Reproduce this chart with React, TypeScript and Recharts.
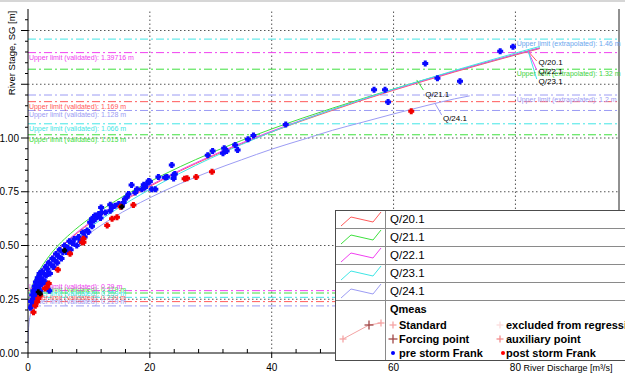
import React from 'react';
import {
  ComposedChart,
  Line,
  Scatter,
  XAxis,
  YAxis,
  ReferenceLine,
  ReferenceDot,
  Legend,
} from 'recharts';

const FONT = '"Liberation Sans", Arial, sans-serif';

// axes
const xTicks = [0, 4, 8, 12, 16, 20, 24, 28, 32, 36, 40, 44, 48, 52, 56, 60, 64, 68, 72, 76, 80, 84, 88, 92, 96];
const xLabelTicks = [0, 20, 40, 60, 80];
const yTicks = [
  0, 0.05, 0.1, 0.15, 0.2, 0.25, 0.3, 0.35, 0.4, 0.45, 0.5, 0.55, 0.6, 0.65, 0.7, 0.75, 0.8,
  0.85, 0.9, 0.95, 1, 1.05, 1.1, 1.15, 1.2, 1.25, 1.3, 1.35, 1.4, 1.45, 1.5, 1.55,
];
const yLabelTicks = [0, 0.25, 0.5, 0.75, 1];
const xGrid = [20, 40, 60, 80];
const yGrid = [0.25, 0.5, 0.75, 1, 1.25, 1.5];

// rating curves, order: Q/20.1, Q/21.1, Q/22.1, Q/23.1, Q/24.1
const seriesNames = ['Q/20.1', 'Q/21.1', 'Q/22.1', 'Q/23.1', 'Q/24.1'];
const seriesColors = ['#ff5a5a', '#3ee03e', '#f040f0', '#40e6e6', '#9c9cf4'];

const curveQ = [0.3, 0.5, 1, 2, 3, 5, 7, 10, 14, 20, 25, 30, 35, 40, 45, 50, 55, 60, 65, 70, 75, 80, 84];
const q20H = [0.262, 0.281, 0.318, 0.371, 0.412, 0.478, 0.532, 0.6, 0.677, 0.775, 0.847, 0.912, 0.972, 1.028, 1.08, 1.129, 1.177, 1.222, 1.265, 1.307, 1.347, 1.386, 1.416];
const q21H = [0.275, 0.295, 0.334, 0.39, 0.433, 0.502, 0.556, 0.624, 0.701, 0.797, 0.867, 0.93, 0.988, 1.042, 1.092, 1.139, 1.184, 1.228, 1.27, 1.311, 1.35, 1.389, 1.419];
const q22H = [0.265, 0.285, 0.322, 0.375, 0.416, 0.482, 0.536, 0.604, 0.681, 0.779, 0.851, 0.916, 0.976, 1.032, 1.084, 1.133, 1.18, 1.225, 1.268, 1.31, 1.35, 1.389, 1.419];
const q23H = [0.255, 0.273, 0.307, 0.355, 0.394, 0.457, 0.511, 0.58, 0.659, 0.761, 0.837, 0.906, 0.969, 1.028, 1.082, 1.133, 1.181, 1.227, 1.271, 1.314, 1.355, 1.395, 1.426];
const q24Q = [0, 0.1, 0.5, 1, 2, 3, 5, 7, 10, 14, 20, 25, 30, 35, 40, 45, 50, 55, 60, 65, 70, 72.5];
const q24H = [0.04, 0.118, 0.191, 0.24, 0.306, 0.354, 0.427, 0.484, 0.554, 0.63, 0.722, 0.788, 0.846, 0.898, 0.948, 0.992, 1.036, 1.074, 1.112, 1.148, 1.182, 1.196];

// limits per series (same order as seriesNames)
const upperValidated = [1.169, 1.015, 1.39716, 1.066, 1.128];
const lowerValidated = [0.239, 0.279, 0.29, 0.259, 0.219];
const upperExtrapolated = [1.46, 1.32, 1.2];
const upperExtrapolatedSeries = [3, 1, 4];
const extrapolatedTextColors = ['#6aa6ee', '#3ed23e', '#9c9cf4'];

// measurements [Q, h]
const preStorm = [
  [0.4, 0.21], [0.5, 0.24], [0.6, 0.22], [0.7, 0.27], [0.8, 0.25], [0.9, 0.29], [1.0, 0.23], [1.0, 0.27],
  [1.1, 0.31], [1.2, 0.26], [1.3, 0.29], [1.3, 0.33], [1.4, 0.27], [1.5, 0.31], [1.6, 0.35], [1.7, 0.3],
  [1.8, 0.33], [1.9, 0.37], [2.0, 0.29], [2.1, 0.35], [2.2, 0.32], [2.3, 0.38], [2.5, 0.34], [2.6, 0.37],
  [2.8, 0.33], [2.9, 0.4], [3.0, 0.36], [3.2, 0.39], [3.4, 0.42], [3.5, 0.29], [3.6, 0.37], [3.8, 0.41],
  [4.0, 0.44], [4.2, 0.4], [4.4, 0.43], [4.6, 0.46], [4.8, 0.42], [5.0, 0.45], [5.2, 0.48], [5.5, 0.44],
  [5.7, 0.47], [6.0, 0.5], [6.3, 0.47], [6.5, 0.49], [6.8, 0.52], [7.0, 0.48], [7.3, 0.51], [7.6, 0.53],
  [8.0, 0.5], [8.3, 0.54], [8.6, 0.52], [9.0, 0.56], [9.3, 0.54], [9.7, 0.57], [9.9, 0.563], [10.2, 0.608],
  [10.5, 0.59], [10.5, 0.624], [10.8, 0.616], [11.0, 0.639], [11.3, 0.631], [11.6, 0.647], [11.9, 0.628],
  [12.0, 0.677], [12.1, 0.654], [12.7, 0.654], [13.5, 0.662], [13.5, 0.69], [13.8, 0.677], [14.3, 0.685],
  [14.9, 0.693], [15.4, 0.685], [15.7, 0.7], [15.9, 0.716], [16.2, 0.724], [16.5, 0.739], [17.0, 0.781],
  [17.6, 0.747], [17.9, 0.762], [18.7, 0.762], [19.0, 0.782], [19.2, 0.77], [19.5, 0.786], [19.8, 0.8],
  [20.0, 0.798], [20.3, 0.762], [20.9, 0.762], [21.4, 0.819], [22.5, 0.816], [22.8, 0.819], [23.6, 0.875],
  [23.9, 0.827], [23.9, 0.812], [24.1, 0.832], [29.5, 0.92], [30.3, 0.94], [32.0, 0.929], [32.2, 0.952],
  [32.6, 0.94], [34.0, 0.968], [34.4, 0.944], [36.1, 0.994], [37.0, 1.012], [42.3, 1.063], [56.8, 1.225],
  [58.6, 1.225], [59.1, 1.167], [65.2, 1.346], [67.2, 1.278], [70.9, 1.264], [77.5, 1.403], [79.6, 1.424],
];
const postStorm = [
  [0.9, 0.19], [1.2, 0.22], [1.5, 0.238], [1.7, 0.253], [2.0, 0.269], [2.8, 0.3], [3.1, 0.307], [3.4, 0.323],
  [4.9, 0.387], [6.9, 0.462], [8.9, 0.515], [9.1, 0.515], [9.1, 0.531], [13.0, 0.593], [13.8, 0.624],
  [14.6, 0.631], [15.2, 0.68], [17.3, 0.688], [25.7, 0.81], [26.1, 0.813], [27.6, 0.819], [30.2, 0.843],
  [62.9, 1.125],
];
const forcing = [[1.7, 0.284], [2.0, 0.276], [6.0, 0.477], [15.4, 0.68]];

const toRows = (qs: number[], hs: number[]) => qs.map((q, i) => ({ q, h: hs[i] }));
const toPts = (arr: number[][]) => arr.map(([q, h]) => ({ q, h }));

const curves = [
  toRows(curveQ, q20H),
  toRows(curveQ, q21H),
  toRows(curveQ, q22H),
  toRows(curveQ, q23H),
  toRows(q24Q, q24H),
];

const plus = (color: string, s = 3) => (p: any) => {
  const { cx, cy } = p;
  if (cx == null || cy == null) return <g />;
  const a = s / 2;
  return (
    <path
      d={`M${cx - a},${cy - s}h${s}v${a}h${a}v${s}h${-a}v${a}h${-s}v${-a}h${-a}v${-s}h${a}z`}
      fill={color}
    />
  );
};

const XTick = (props: any) => {
  const { x, y, payload } = props;
  const v = payload.value;
  const major = xLabelTicks.includes(v);
  return (
    <g>
      <line x1={x} x2={x} y1={major ? y : y - 4} y2={major ? y + 5 : y} stroke="#000" />
      {major && (
        <text x={x} y={y + 18} textAnchor="middle" fontSize={10} fontFamily={FONT} fill="#000">
          {v}
        </text>
      )}
      {v === 80 && (
        <text x={x + 8} y={y + 18} fontSize={9} fontFamily={FONT} fill="#000">
          River Discharge [m³/s]
        </text>
      )}
    </g>
  );
};

const YTick = (props: any) => {
  const { x, y, payload } = props;
  const v = payload.value;
  const major = Math.abs(v * 4 - Math.round(v * 4)) < 1e-6;
  const labelled = yLabelTicks.some((t) => Math.abs(t - v) < 1e-6);
  return (
    <g>
      <line x1={x - (major ? 7 : 3)} x2={x} y1={y} y2={y} stroke="#000" />
      {labelled && (
        <text x={x - 9} y={y + 3.5} textAnchor="end" fontSize={10} fontFamily={FONT} fill="#000">
          {v.toFixed(2)}
        </text>
      )}
    </g>
  );
};

const YTitle = () => (
  <text transform="translate(15,53) rotate(-90)" textAnchor="middle" fontSize={9.5} fontFamily={FONT} fill="#000">
    River Stage, SG [m]
  </text>
);

const textShape = (txt: string, color: string, dy: number, size = 7) => (p: any) => (
  <text x={p.cx} y={p.cy + dy} fill={color} fontSize={size} fontFamily={FONT}>
    {txt}
  </text>
);

const Cross = ({ x, y, s, color }: { x: number; y: number; s: number; color: string }) => (
  <g stroke={color} strokeWidth={1.3}>
    <line x1={x - s} x2={x + s} y1={y} y2={y} />
    <line x1={x} x2={x} y1={y - s} y2={y + s} />
  </g>
);

const LegendBox = () => {
  const item = (top: number, left: number, marker: React.ReactNode, label: string) => (
    <div style={{ position: 'absolute', top: top - 7, left, height: 14, display: 'flex', alignItems: 'center', whiteSpace: 'nowrap' }}>
      <svg width={12} height={14}>{marker}</svg>
      <span style={{ fontWeight: 'bold', fontSize: 11, lineHeight: '14px', marginLeft: 0 }}>{label}</span>
    </div>
  );
  return (
    <div
      style={{
        width: 300,
        height: 151,
        boxSizing: 'border-box',
        border: '1px solid #4c4c4c',
        background: '#fff',
        fontFamily: FONT,
        color: '#000',
      }}
    >
      {seriesNames.map((n, i) => (
        <div key={n} style={{ display: 'flex', height: 17, borderBottom: '1px solid #8a8a8a' }}>
          <div style={{ width: 49, borderRight: '1px solid #8a8a8a' }}>
            <svg width={49} height={17}>
              <polyline points="5,15 15,6 37,11 45,1" fill="none" stroke={seriesColors[i]} />
            </svg>
          </div>
          <div style={{ paddingLeft: 4, fontSize: 11.5, lineHeight: '17px' }}>{n}</div>
        </div>
      ))}
      <div style={{ display: 'flex', height: 59 }}>
        <div style={{ width: 49, borderRight: '1px solid #8a8a8a' }}>
          <svg width={49} height={59}>
            <polyline points="7,38 33,24 45,22" fill="none" stroke="#f4a4a4" />
            <Cross x={7} y={38} s={3.5} color="#f4a4a4" />
            <Cross x={33} y={24} s={4.5} color="#a04848" />
            <Cross x={45} y={22} s={3.5} color="#f4a4a4" />
          </svg>
        </div>
        <div style={{ position: 'relative', flex: 1 }}>
          <div style={{ position: 'absolute', top: 1, left: 4, fontWeight: 'bold', fontSize: 11, lineHeight: '14px' }}>
            Qmeas
          </div>
          {item(24, 1, <Cross x={6} y={7} s={3.5} color="#f4a4a4" />, 'Standard')}
          {item(38, 1, <Cross x={6} y={7} s={4.5} color="#a04848" />, 'Forcing point')}
          {item(52, 1, <circle cx={6} cy={7} r={2} fill="#0000ff" />, 'pre storm Frank')}
          {item(24, 108, <Cross x={6} y={7} s={3.5} color="#fadcdc" />, 'excluded from regression')}
          {item(38, 108, <Cross x={6} y={7} s={3.5} color="#f28c8c" />, 'auxiliary point')}
          {item(52, 108, <circle cx={9} cy={7} r={2} fill="#ff0000" />, 'post storm Frank')}
        </div>
      </div>
    </div>
  );
};

export default function App() {
  return (
    <div
      style={{
        position: 'absolute',
        left: 0,
        top: 0,
        width: 625,
        height: 376,
        overflow: 'hidden',
        background: '#fff',
        boxShadow: 'inset 0 2px 0 #d6d6d6',
      }}
    >
      <ComposedChart width={625} height={376} margin={{ top: 9, right: 6, bottom: 0, left: 0 }}>
        <XAxis
          dataKey="q"
          type="number"
          domain={[0, 97]}
          allowDataOverflow
          ticks={xTicks}
          interval={0}
          tickSize={0}
          tickMargin={0}
          tickLine={false}
          tick={<XTick />}
          height={23}
          axisLine={{ stroke: '#000' }}
        />
        <YAxis
          dataKey="h"
          type="number"
          domain={[0, 1.6]}
          allowDataOverflow
          ticks={yTicks}
          interval={0}
          tickSize={0}
          tickMargin={0}
          tickLine={false}
          tick={<YTick />}
          width={28}
          axisLine={{ stroke: '#000' }}
          label={<YTitle />}
        />

        {xGrid.map((v) => (
          <ReferenceLine key={`gx${v}`} x={v} stroke="#555" strokeDasharray="1.5 2.5" />
        ))}
        {yGrid.map((v) => (
          <ReferenceLine key={`gy${v}`} y={v} stroke="#555" strokeDasharray="1.5 2.5" />
        ))}
        <ReferenceLine x={97} stroke="#222" />

        {upperValidated.map((v, i) => (
          <ReferenceLine key={`uv${i}`} y={v} stroke={seriesColors[i]} strokeDasharray="8 3 2 3" />
        ))}
        {lowerValidated.map((v, i) => (
          <ReferenceLine key={`lv${i}`} y={v} stroke={seriesColors[i]} strokeDasharray="8 3 2 3" />
        ))}
        {upperExtrapolated.map((v, i) => (
          <ReferenceLine
            key={`ue${i}`}
            y={v}
            stroke={seriesColors[upperExtrapolatedSeries[i]]}
            strokeDasharray="8 3 2 3"
          />
        ))}

        {upperValidated.map((v, i) => (
          <ReferenceDot
            key={`uvt${i}`}
            x={0.15}
            y={v}
            r={0}
            shape={textShape(`Upper limit (validated): ${v} m`, seriesColors[i], 7)}
          />
        ))}
        {lowerValidated.map((v, i) => (
          <ReferenceDot
            key={`lvt${i}`}
            x={0.15}
            y={v}
            r={0}
            shape={textShape(`Lower limit (validated): ${v} m`, seriesColors[i], -1.5)}
          />
        ))}
        {upperExtrapolated.map((v, i) => (
          <ReferenceDot
            key={`uet${i}`}
            x={80.2}
            y={v}
            r={0}
            shape={textShape(`Upper limit (extrapolated): ${v} m`, extrapolatedTextColors[i], 7)}
          />
        ))}

        {curves.map((d, i) => (
          <Line
            key={seriesNames[i]}
            data={d}
            dataKey="h"
            type="monotone"
            stroke={seriesColors[i]}
            strokeWidth={1}
            dot={false}
            activeDot={false}
            isAnimationActive={false}
          />
        ))}

        {/* leader lines to curve names */}
        <ReferenceLine segment={[{ x: 63.8, y: 1.27 }, { x: 64.9, y: 1.223 }]} stroke={seriesColors[1]} />
        <ReferenceLine segment={[{ x: 66.8, y: 1.161 }, { x: 67.9, y: 1.107 }]} stroke={seriesColors[4]} />
        <ReferenceLine segment={[{ x: 82.1, y: 1.403 }, { x: 83.5, y: 1.358 }]} stroke={seriesColors[0]} />
        <ReferenceLine segment={[{ x: 82.1, y: 1.403 }, { x: 83.5, y: 1.316 }]} stroke={seriesColors[2]} />
        <ReferenceLine segment={[{ x: 82.1, y: 1.403 }, { x: 83.5, y: 1.274 }]} stroke={seriesColors[3]} />
        <ReferenceDot x={65.2} y={1.191} r={0} shape={textShape('Q/21.1', '#000', 0, 8)} />
        <ReferenceDot x={68.1} y={1.079} r={0} shape={textShape('Q/24.1', '#000', 0, 8)} />
        <ReferenceDot x={83.8} y={1.34} r={0} shape={textShape('Q/20.1', '#000', 0, 8)} />
        <ReferenceDot x={83.8} y={1.298} r={0} shape={textShape('Q/22.1', '#000', 0, 8)} />
        <ReferenceDot x={83.8} y={1.251} r={0} shape={textShape('Q/23.1', '#000', 0, 8)} />

        <Scatter data={toPts(preStorm)} shape={plus('#0a0aff')} isAnimationActive={false} />
        <Scatter data={toPts(postStorm)} shape={plus('#f00000')} isAnimationActive={false} />
        <Scatter data={toPts(forcing)} shape={plus('#000000', 2.6)} isAnimationActive={false} />

        <Legend
          layout="vertical"
          align="center"
          verticalAlign="middle"
          wrapperStyle={{ left: 335, top: 210, width: 300, height: 151 }}
          content={() => <LegendBox />}
        />
      </ComposedChart>
    </div>
  );
}
